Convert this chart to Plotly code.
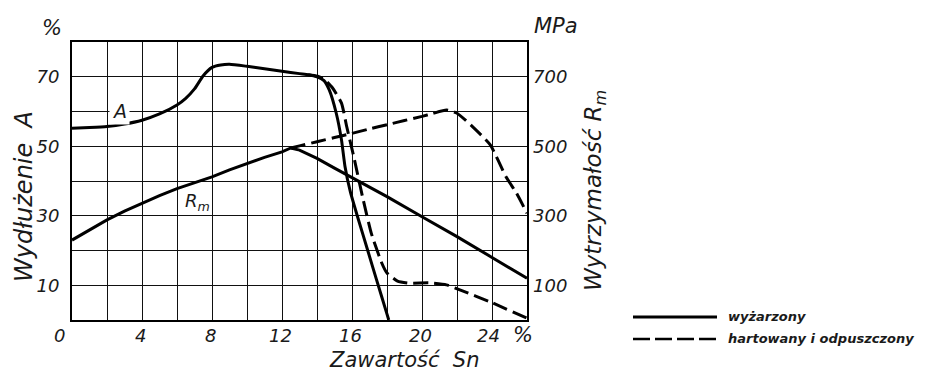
import plotly.graph_objects as go

# ---------------- data ----------------
# Elongation A [%] vs Sn content [%]
a_ann_x = [0, 1, 2, 3, 4, 5, 6, 6.5, 7, 7.5, 8, 8.5, 9, 10, 11, 12, 13, 13.5, 14, 14.4,
           14.7, 15.1, 15.4, 15.6, 15.9, 16.3, 16.9, 17.4, 18.0, 18.1]
a_ann_y = [55.2, 55.4, 55.7, 56.4, 57.5, 59.3, 61.9, 63.8, 66.5, 70.3, 72.7, 73.4, 73.6, 73.0, 72.3,
           71.6, 70.9, 70.6, 70.0, 68.9, 66.2, 59.5, 51.8, 44.2, 37.0, 30.0, 20.0, 11.6, 1.7, 0.0]

a_qt_x = [13.5, 14.0, 14.4, 14.9, 15.4, 15.7, 16.1, 16.6, 17.1, 17.7, 18.0, 18.6, 19.3, 20.4,
          21.4, 22.2, 23.9, 26.0]
a_qt_y = [70.6, 70.2, 69.3, 66.7, 62.4, 55.6, 47.0, 35.5, 25.0, 16.4, 13.5, 11.2, 10.6, 10.7,
          10.1, 8.6, 5.2, 0.5]

# Tensile strength Rm [MPa] vs Sn content [%]
rm_ann_x = [0, 1, 2, 3, 4, 5, 6, 7, 8, 9, 10, 11, 12, 12.5, 13, 14, 15, 16, 18, 20, 22, 24, 26]
rm_ann_y = [230, 259, 288, 313, 336, 358, 378, 395, 412, 432, 451, 468, 484, 495, 489, 465,
            437, 410, 355, 297, 240, 180, 120]

rm_qt_x = [12.5, 13, 14, 15, 16, 17, 18, 19, 20, 20.6, 21.4, 22.0, 22.9, 23.9, 24.8, 25.4, 26]
rm_qt_y = [495, 501, 513, 525, 537, 550, 562, 574, 586, 594, 604, 595, 556, 504, 412, 365, 307]

x_ticks = [0, 4, 8, 12, 16, 20, 24, 26]
x_tick_text = ["0", "4", "8", "12", "16", "20", "24", "%"]
y_left_ticks = [0, 10, 20, 30, 40, 50, 60, 70, 80]
y_left_text = ["", "10", "", "30", "", "50", "", "70", ""]
y_right_ticks = [0, 100, 200, 300, 400, 500, 600, 700, 800]
y_right_text = ["", "100", "", "300", "", "500", "", "700", ""]

legend_names = ["wyżarzony", "hartowany i odpuszczony"]

# ---------------- figure ----------------
OFF = 8                      # default body margin of the html page
WIN_W, WIN_H = 931, 374
W, H = WIN_W - OFF, WIN_H - OFF
L, R, T, B = 72, 527, 42, 320   # plot area in page pixels
FONT = "DejaVu Sans"


def px(xp):
    return (xp - L) / (R - L)


def py(yp):
    return (B - yp) / (B - T)


def ifont(size, bold=False):
    d = dict(family=FONT, size=size, color="#1a1a1a", style="italic")
    if bold:
        d["weight"] = "bold"
    return d


line_solid = dict(color="black", width=3)
line_dash = dict(color="black", width=3, dash="15px,6px")

fig = go.Figure()
fig.add_trace(go.Scatter(x=a_ann_x, y=a_ann_y, mode="lines",
                         line=dict(line_solid, shape="spline", smoothing=0.5),
                         yaxis="y", showlegend=False))
fig.add_trace(go.Scatter(x=a_qt_x, y=a_qt_y, mode="lines",
                         line=dict(line_dash, shape="spline", smoothing=0.5),
                         yaxis="y", showlegend=False))
fig.add_trace(go.Scatter(x=rm_ann_x, y=rm_ann_y, mode="lines", line=line_solid,
                         yaxis="y2", showlegend=False))
fig.add_trace(go.Scatter(x=rm_qt_x, y=rm_qt_y, mode="lines",
                         line=dict(line_dash, shape="spline", smoothing=0.5),
                         yaxis="y2", showlegend=False))

fig.update_layout(
    width=W, height=H,
    margin=dict(l=L - OFF, r=W - (R - OFF), t=T - OFF, b=H - (B - OFF), pad=0, autoexpand=False),
    paper_bgcolor="white", plot_bgcolor="white",
    font=dict(family=FONT, color="#1a1a1a"),
    xaxis=dict(range=[0, 26], dtick=2, showgrid=True, gridcolor="#111", gridwidth=1.4,
               showticklabels=False, ticks="", zeroline=False, automargin=False,
               showline=True, mirror=True, linecolor="black", linewidth=2),
    yaxis=dict(range=[0, 80], tickvals=y_left_ticks, ticktext=y_left_text, showgrid=True,
               gridcolor="#111", gridwidth=1.4, ticks="", tickfont=ifont(18),
               ticklabelstandoff=7, zeroline=False, automargin=False,
               showline=True, mirror=True, linecolor="black", linewidth=2),
    yaxis2=dict(range=[0, 800], tickvals=y_right_ticks, ticktext=y_right_text, overlaying="y",
                side="right", showgrid=False, ticks="", tickfont=ifont(18), ticklabelstandoff=5,
                zeroline=False, showline=False, automargin=False),
    showlegend=False,
)

ann = []
# x tick labels
for v, t in zip(x_ticks, x_tick_text):
    shift = -13 if v == 0 else (-4 if v >= 24 else -2)
    size = 21 if t == "%" else 18
    ann.append(dict(x=v, y=py(335), xref="x", yref="paper", text=t, showarrow=False,
                    xshift=shift, xanchor="center", yanchor="middle", font=ifont(size)))
# unit labels
ann.append(dict(x=px(52), y=py(28), xref="paper", yref="paper", text="%", showarrow=False,
                xanchor="center", yanchor="middle", font=ifont(21)))
ann.append(dict(x=px(532), y=py(26), xref="paper", yref="paper", text="MPa", showarrow=False,
                xanchor="left", yanchor="middle", font=ifont(21)))
# axis titles
ann.append(dict(x=px(24), y=py(197), xref="paper", yref="paper", text="Wydłużenie\u00a0 A",
                textangle=-90, showarrow=False, xanchor="center", yanchor="middle",
                font=ifont(24)))
ann.append(dict(x=px(595), y=py(191), xref="paper", yref="paper", text="Wytrzymałość R<sub>m</sub>",
                textangle=-90, showarrow=False, xanchor="center", yanchor="middle",
                font=ifont(23)))
ann.append(dict(x=px(327), y=py(360), xref="paper", yref="paper", text="Zawartość\u00a0 Sn",
                xanchor="left", yanchor="middle", showarrow=False, font=ifont(21)))
# curve labels
ann.append(dict(x=2.74, y=60.2, xref="x", yref="y", text="A", showarrow=False, bgcolor="white",
                borderpad=2, xanchor="center", yanchor="middle", font=ifont(19)))
ann.append(dict(x=7.15, y=34.0, xref="x", yref="y", text="R<sub>m</sub>", showarrow=False,
                xanchor="center", yanchor="middle", font=ifont(18)))
# legend texts
ann.append(dict(x=px(726), y=py(316), xref="paper", yref="paper", text=legend_names[0],
                xanchor="left", yanchor="middle", showarrow=False, font=ifont(13, bold=True)))
ann.append(dict(x=px(726), y=py(338), xref="paper", yref="paper", text=legend_names[1],
                xanchor="left", yanchor="middle", showarrow=False, font=ifont(13, bold=True)))
fig.update_layout(annotations=ann)

# legend samples
fig.add_shape(type="line", xref="paper", yref="paper", x0=px(633), x1=px(717), y0=py(317), y1=py(317),
              line=dict(color="black", width=3))
fig.add_shape(type="line", xref="paper", yref="paper", x0=px(633), x1=px(717), y0=py(339), y1=py(339),
              line=dict(color="black", width=2.5, dash="17px,5px"))

fig.write_html("out.html")
